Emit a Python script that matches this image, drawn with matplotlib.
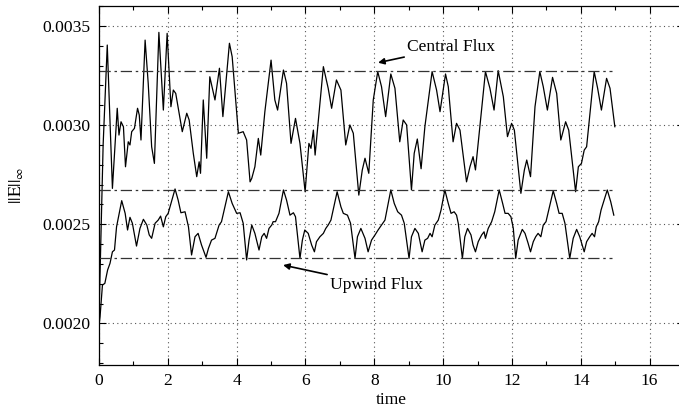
import matplotlib
matplotlib.use("Agg")
import matplotlib.pyplot as plt
from matplotlib.ticker import MultipleLocator, FormatStrFormatter

# ---------------- data ----------------
central_t = [0.00, 0.12, 0.24, 0.39, 0.53, 0.58, 0.64, 0.71, 0.77, 0.85, 0.90, 0.95,
             1.03, 1.12, 1.17, 1.22, 1.34, 1.43, 1.53, 1.61, 1.74, 1.87, 1.98, 2.09,
             2.16, 2.23, 2.42, 2.55, 2.62, 2.74, 2.84, 2.91, 2.95, 3.03, 3.13, 3.22,
             3.37, 3.50, 3.60, 3.79, 3.87, 4.05, 4.19, 4.29, 4.39, 4.44, 4.53, 4.63,
             4.70, 4.82, 5.00, 5.11, 5.19, 5.36, 5.45, 5.58, 5.71, 5.84, 5.99, 6.10,
             6.16, 6.23, 6.28, 6.52, 6.66, 6.76, 6.90, 7.03, 7.17, 7.29, 7.39, 7.55,
             7.65, 7.73, 7.84, 7.97, 8.10, 8.21, 8.33, 8.48, 8.60, 8.74, 8.84, 8.94,
             9.08, 9.16, 9.25, 9.36, 9.47, 9.68, 9.81, 9.91, 10.07, 10.15, 10.29, 10.39,
             10.49, 10.68, 10.78, 10.87, 10.94, 11.23, 11.36, 11.48, 11.60, 11.75, 11.87,
             11.99, 12.07, 12.26, 12.36, 12.43, 12.54, 12.67, 12.81, 12.91, 13.03, 13.18,
             13.30, 13.42, 13.56, 13.65, 13.85, 13.93, 14.02, 14.10, 14.17, 14.39, 14.49,
             14.60, 14.75, 14.85, 14.99]
central_e = [0.002030, 0.002900, 0.003404, 0.002681, 0.003085, 0.002950, 0.003017, 0.002992,
             0.002790, 0.002916, 0.002900, 0.002967, 0.002984, 0.003085, 0.003051, 0.002925,
             0.003429, 0.003211, 0.002891, 0.002807, 0.003468, 0.003076, 0.003463, 0.003093,
             0.003177, 0.003160, 0.002967, 0.003060, 0.003026, 0.002858, 0.002740, 0.002815,
             0.002757, 0.003127, 0.002833, 0.003244, 0.003127, 0.003287, 0.003043, 0.003413,
             0.003345, 0.002959, 0.002967, 0.002925, 0.002714, 0.002732, 0.002790, 0.002933,
             0.002849, 0.003068, 0.003328, 0.003127, 0.003076, 0.003278, 0.003211, 0.002908,
             0.003034, 0.002908, 0.002664, 0.002908, 0.002883, 0.002975, 0.002849, 0.003295,
             0.003186, 0.003085, 0.003228, 0.003177, 0.002900, 0.003001, 0.002959, 0.002647,
             0.002773, 0.002833, 0.002757, 0.003127, 0.003270, 0.003194, 0.003043, 0.003258,
             0.003186, 0.002916, 0.003026, 0.003001, 0.002673, 0.002858, 0.002930, 0.002780,
             0.002992, 0.003270, 0.003177, 0.003068, 0.003258, 0.003194, 0.002916, 0.003009,
             0.002975, 0.002714, 0.002790, 0.002841, 0.002774, 0.003270, 0.003186, 0.003076,
             0.003275, 0.003143, 0.002942, 0.003009, 0.002975, 0.002656, 0.002773, 0.002824,
             0.002740, 0.003093, 0.003270, 0.003194, 0.003076, 0.003241, 0.003160, 0.002925,
             0.003017, 0.002975, 0.002664, 0.002790, 0.002807, 0.002874, 0.002891, 0.003270,
             0.003186, 0.003076, 0.003236, 0.003186, 0.002992]

upwind_t = [0.00, 0.03, 0.10, 0.17, 0.25, 0.32, 0.39, 0.45, 0.51, 0.66, 0.76, 0.83, 0.90,
            0.97, 1.09, 1.19, 1.29, 1.39, 1.46, 1.53, 1.63, 1.72, 1.79, 1.87, 1.94, 2.01,
            2.21, 2.30, 2.38, 2.50, 2.60, 2.69, 2.79, 2.88, 2.98, 3.11, 3.18, 3.27, 3.37,
            3.49, 3.56, 3.76, 3.87, 4.00, 4.10, 4.19, 4.29, 4.36, 4.44, 4.53, 4.65, 4.73,
            4.80, 4.87, 4.94, 5.02, 5.06, 5.13, 5.23, 5.36, 5.45, 5.55, 5.65, 5.71, 5.84,
            5.91, 5.98, 6.08, 6.18, 6.26, 6.32, 6.42, 6.52, 6.59, 6.66, 6.74, 6.92, 7.03,
            7.10, 7.22, 7.31, 7.44, 7.51, 7.61, 7.73, 7.82, 7.92, 8.02, 8.11, 8.21, 8.31,
            8.48, 8.58, 8.68, 8.79, 8.87, 9.01, 9.08, 9.18, 9.28, 9.39, 9.47, 9.55, 9.62,
            9.68, 9.76, 9.86, 9.94, 10.05, 10.15, 10.23, 10.32, 10.39, 10.44, 10.56, 10.63,
            10.71, 10.81, 10.87, 10.94, 11.02, 11.12, 11.19, 11.23, 11.31, 11.41, 11.50,
            11.63, 11.73, 11.80, 11.89, 11.97, 12.04, 12.11, 12.18, 12.30, 12.38, 12.47,
            12.54, 12.62, 12.69, 12.76, 12.84, 12.91, 12.99, 13.07, 13.20, 13.30, 13.37,
            13.46, 13.54, 13.68, 13.78, 13.88, 13.97, 14.04, 14.10, 14.17, 14.26, 14.33,
            14.40, 14.45, 14.52, 14.59, 14.77, 14.87, 14.96]
upwind_e = [0.001990, 0.002033, 0.002193, 0.002202, 0.002269, 0.002303, 0.002361, 0.002370,
            0.002487, 0.002619, 0.002555, 0.002471, 0.002535, 0.002505, 0.002390, 0.002479,
            0.002525, 0.002496, 0.002446, 0.002429, 0.002505, 0.002521, 0.002541, 0.002487,
            0.002538, 0.002555, 0.002678, 0.002622, 0.002558, 0.002563, 0.002487, 0.002345,
            0.002437, 0.002454, 0.002395, 0.002333, 0.002378, 0.002420, 0.002429, 0.002496,
            0.002513, 0.002664, 0.002605, 0.002555, 0.002558, 0.002505, 0.002320, 0.002420,
            0.002496, 0.002454, 0.002370, 0.002437, 0.002454, 0.002429, 0.002479, 0.002496,
            0.002513, 0.002513, 0.002555, 0.002673, 0.002622, 0.002546, 0.002558, 0.002538,
            0.002328, 0.002420, 0.002471, 0.002454, 0.002395, 0.002361, 0.002412, 0.002437,
            0.002454, 0.002479, 0.002496, 0.002521, 0.002664, 0.002588, 0.002555, 0.002546,
            0.002505, 0.002328, 0.002437, 0.002479, 0.002429, 0.002361, 0.002420, 0.002446,
            0.002471, 0.002496, 0.002521, 0.002673, 0.002605, 0.002563, 0.002546, 0.002505,
            0.002328, 0.002437, 0.002479, 0.002454, 0.002361, 0.002420, 0.002429, 0.002454,
            0.002437, 0.002496, 0.002521, 0.002572, 0.002673, 0.002605, 0.002555, 0.002563,
            0.002546, 0.002505, 0.002328, 0.002437, 0.002479, 0.002446, 0.002395, 0.002361,
            0.002412, 0.002446, 0.002462, 0.002429, 0.002479, 0.002513, 0.002563, 0.002673,
            0.002605, 0.002555, 0.002555, 0.002538, 0.002479, 0.002328, 0.002420, 0.002474,
            0.002454, 0.002404, 0.002361, 0.002412, 0.002437, 0.002454, 0.002437, 0.002496,
            0.002513, 0.002572, 0.002669, 0.002605, 0.002555, 0.002555, 0.002505, 0.002328,
            0.002429, 0.002474, 0.002437, 0.002395, 0.002361, 0.002412, 0.002437, 0.002454,
            0.002437, 0.002487, 0.002513, 0.002572, 0.002673, 0.002614, 0.002546]

ref_levels = [0.003273, 0.002673, 0.002331]
ref_span = [0.0, 14.9]

x_ticks = [0, 2, 4, 6, 8, 10, 12, 14, 16]
y_ticks = [0.0020, 0.0025, 0.0030, 0.0035]

# ---------------- styling ----------------
plt.rcParams['font.family'] = ['Liberation Serif', 'DejaVu Serif']
plt.rcParams['mathtext.fontset'] = 'stix'
FS = 12.6

fig = plt.figure(figsize=(6.79, 4.12), dpi=100)
ax = fig.add_axes([99 / 679, 1 - 365 / 412, (684 - 99) / 679, (365 - 6.2) / 412])

ax.plot(central_t, central_e, color='black', lw=0.9)
ax.plot(upwind_t, upwind_e, color='black', lw=0.9)
for lev in ref_levels:
    ax.plot(ref_span, [lev, lev], color='#333333', lw=0.9,
            linestyle=(0, (9, 3, 2, 3)))

ax.set_xlim(0, 17)
ax.set_ylim(0.00179, 0.0036)
ax.set_xticks(x_ticks)
ax.set_yticks(y_ticks)
ax.xaxis.set_minor_locator(MultipleLocator(1))
ax.yaxis.set_minor_locator(MultipleLocator(0.0001))
ax.yaxis.set_major_formatter(FormatStrFormatter('%.4f'))
ax.tick_params(which='both', direction='in', top=True, right=True, labelsize=FS,
               width=0.8, color='black')
ax.tick_params(which='major', length=5, pad=6)
ax.tick_params(which='minor', length=3)
ax.grid(True, which='major', linestyle=(0, (1, 3)), color='#555555', lw=0.8)
for s in ax.spines.values():
    s.set_linewidth(0.9)

ax.set_xlabel('time', fontsize=FS, labelpad=2)
ax.set_ylabel(r'$\mathrm{||E||}_{\infty}$', fontsize=FS, labelpad=12)

ax.annotate('Central Flux', xy=(8.11, 0.003315), xytext=(8.95, 0.003394),
            fontsize=FS, va='center', ha='left',
            arrowprops=dict(arrowstyle='-|>', color='black', lw=1.2,
                            mutation_scale=9, shrinkA=0, shrinkB=0))
ax.annotate('Upwind Flux', xy=(5.35, 0.002294), xytext=(6.71, 0.002193),
            fontsize=FS, va='center', ha='left',
            arrowprops=dict(arrowstyle='-|>', color='black', lw=1.2,
                            mutation_scale=9, shrinkA=0, shrinkB=0))

fig.savefig('out.png', dpi=100)
